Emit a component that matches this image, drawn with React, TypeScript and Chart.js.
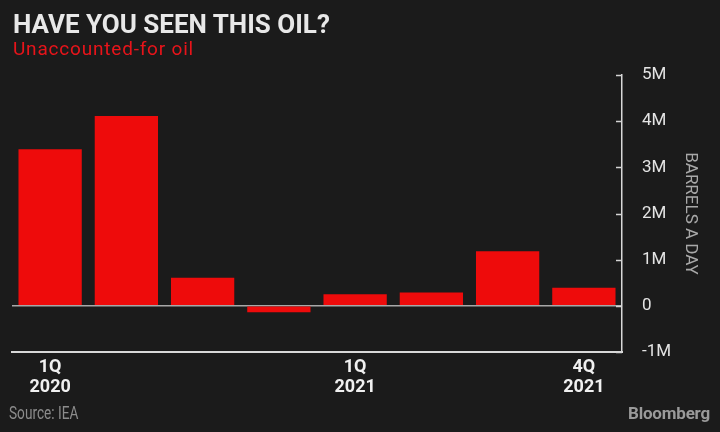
import React, { useEffect, useRef } from 'react';
import { Chart, registerables } from 'chart.js';

Chart.register(...registerables);

const categories = ['1Q 2020', '2Q 2020', '3Q 2020', '4Q 2020', '1Q 2021', '2Q 2021', '3Q 2021', '4Q 2021'];
const oilValues = [3.39, 4.11, 0.61, -0.14, 0.25, 0.29, 1.18, 0.39];
const yTickValues = [-1, 0, 1, 2, 3, 4, 5];
const yTickLabels = ['-1M', '0', '1M', '2M', '3M', '4M', '5M'];
const shownXLabelIndexes = [0, 4, 7];

const BG = '#1b1b1b';
const RED = '#ee0b0b';

const tickMarks = {
  id: 'tickMarks',
  afterDatasetsDraw(chart: any) {
    const y = chart.scales.y;
    const ctx = chart.ctx;
    const x = chart.chartArea.right;
    ctx.save();
    ctx.strokeStyle = '#d4d4d4';
    ctx.lineWidth = 1.5;
    y.ticks.forEach((t: any) => {
      const py = Math.round(y.getPixelForValue(t.value)) + 0.5;
      ctx.beginPath();
      ctx.moveTo(x - 6, py);
      ctx.lineTo(x, py);
      ctx.stroke();
    });
    ctx.restore();
  },
};

export default function App() {
  const ref = useRef<HTMLCanvasElement | null>(null);

  useEffect(() => {
    if (!ref.current) return;
    const chart = new Chart(ref.current, {
      type: 'bar',
      data: {
        labels: categories,
        datasets: [
          {
            data: oilValues,
            backgroundColor: RED,
            borderWidth: 0,
            barPercentage: 0.83,
            categoryPercentage: 1,
          },
        ],
      },
      options: {
        responsive: false,
        animation: false,
        layout: { padding: { left: 12, top: 75, right: 0, bottom: 0 } },
        plugins: {
          legend: { display: false },
          tooltip: { enabled: false },
          title: { display: false },
        },
        scales: {
          x: {
            grid: { display: false, drawTicks: false },
            border: { display: true, color: '#d8d8d8', width: 2 },
            ticks: {
              autoSkip: false,
              maxRotation: 0,
              minRotation: 0,
              padding: 6,
              color: '#f0f0f0',
              font: { family: 'Roboto', size: 18, weight: 'bold', lineHeight: 1.1 },
              callback: (_v: any, i: number) =>
                shownXLabelIndexes.includes(i) ? categories[i].split(' ') : '',
            },
            afterFit: (s: any) => {
              s.height = 80;
            },
          },
          y: {
            position: 'right',
            min: -1,
            max: 5,
            afterBuildTicks: (s: any) => {
              s.ticks = yTickValues.map((v) => ({ value: v }));
            },
            grid: {
              drawTicks: false,
              drawOnChartArea: true,
              color: (c: any) => (c.tick && c.tick.value === 0 ? '#a8a8a8' : 'rgba(0,0,0,0)'),
              lineWidth: 1.5,
            },
            border: { display: true, color: '#d8d8d8', width: 1.5 },
            ticks: {
              padding: 20,
              color: '#e4e4e4',
              font: { family: 'Roboto', size: 17 },
              callback: (v: any) => {
                const i = yTickValues.indexOf(Number(v));
                return i >= 0 ? yTickLabels[i] : '';
              },
            },
            title: {
              display: true,
              text: 'BARRELS A DAY',
              color: '#a8a8a8',
              font: { family: 'Roboto', size: 17 },
              padding: { top: 20, bottom: 0 },
            },
            afterFit: (s: any) => {
              s.width = 98;
            },
          },
        },
      },
      plugins: [tickMarks],
    });
    return () => chart.destroy();
  }, []);

  return (
    <div
      style={{
        position: 'fixed',
        left: 0,
        top: 0,
        width: 720,
        height: 432,
        background: BG,
        overflow: 'hidden',
        fontFamily: 'Roboto, sans-serif',
      }}
    >
      <canvas ref={ref} width={720} height={432} style={{ position: 'absolute', left: 0, top: 0, width: 720, height: 432 }} />
      <div
        style={{
          position: 'absolute',
          left: 13,
          top: 11,
          fontSize: 26,
          lineHeight: 1,
          fontWeight: 'bold',
          color: '#e8e8e8',
          whiteSpace: 'nowrap',
        }}
      >
        HAVE YOU SEEN THIS OIL?
      </div>
      <div
        style={{
          position: 'absolute',
          left: 13,
          top: 39,
          fontSize: 19,
          lineHeight: 1,
          color: '#e8141a',
          whiteSpace: 'nowrap',
          letterSpacing: 0.8,
        }}
      >
        Unaccounted-for oil
      </div>
      <div
        style={{
          position: 'absolute',
          left: 9,
          top: 405,
          fontSize: 17.5,
          lineHeight: 1,
          color: '#8c8c8c',
          whiteSpace: 'nowrap',
          transformOrigin: 'left top',
          transform: 'scaleX(0.78)',
        }}
      >
        Source: IEA
      </div>
      <div
        style={{
          position: 'absolute',
          right: 10,
          top: 405,
          fontSize: 17,
          lineHeight: 1,
          fontWeight: 'bold',
          color: '#9a9a9a',
          whiteSpace: 'nowrap',
          letterSpacing: -0.2,
        }}
      >
        Bloomberg
      </div>
    </div>
  );
}
